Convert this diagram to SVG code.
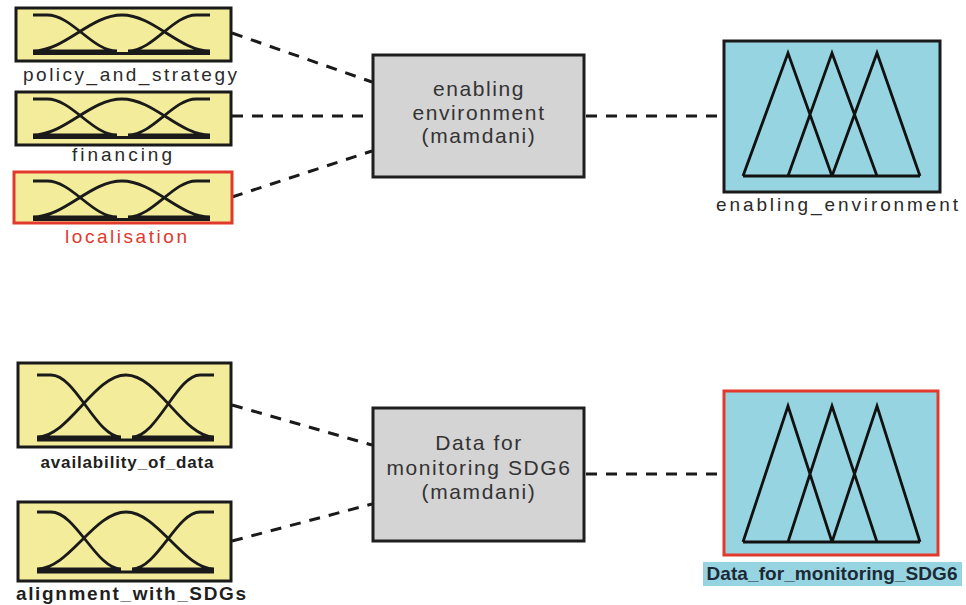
<svg xmlns="http://www.w3.org/2000/svg" width="966" height="605" viewBox="0 0 966 605">
<style>
text{font-family:"Liberation Sans",Arial,sans-serif;}
.in{fill:#f3ec9b;stroke:#1a1a1a;stroke-width:3;}
.inr{fill:#f3ec9b;stroke:#e2392c;stroke-width:3;}
.sys{fill:#d4d4d4;stroke:#1e1e1e;stroke-width:3;}
.out{fill:#97d4e1;stroke:#1a1a1a;stroke-width:3;}
.outr{fill:#97d4e1;stroke:#e2392c;stroke-width:3;}
.mf{fill:none;stroke:#1a1a1a;stroke-width:2.8;}
.tri{fill:none;stroke:#111;stroke-width:2.8;stroke-linejoin:miter;}
.lbl{font-size:19px;fill:#2a2a2a;text-anchor:middle;}
.blbl{font-size:17px;font-weight:bold;fill:#1f1f1f;text-anchor:middle;}
.sysT{font-size:21px;fill:#333;text-anchor:middle;letter-spacing:1.6px;}
.conn{fill:none;stroke:#1a1a1a;stroke-width:3;stroke-dasharray:11 9;}
</style>
<rect x="0" y="0" width="966" height="605" fill="#ffffff"/>

<g id="connectors">
<line class="conn" x1="232" y1="33" x2="372" y2="82"/>
<line class="conn" x1="232" y1="116" x2="372" y2="116"/>
<line class="conn" x1="232" y1="197" x2="372" y2="151"/>
<line class="conn" x1="586" y1="116" x2="722" y2="116"/>
<line class="conn" x1="232" y1="405" x2="372" y2="445"/>
<line class="conn" x1="232" y1="541" x2="372" y2="504"/>
<line class="conn" x1="586" y1="474" x2="722" y2="474"/>
</g>

<g id="policy_and_strategy">
<rect class="in" x="16" y="8" width="215" height="53"/>
<path class="mf" d="M33,15 H47 C72,15 92,51 117,51 M33,51 C65,51 90,15 122,15 C154,15 179,51 210,51 M128,51 C153,51 173,15 196,15 H210 M33,51 H117 M128,51 H210 M33,53.5 H210"/>
<text class="lbl" x="130" y="81" textLength="214" lengthAdjust="spacing">policy_and_strategy</text>
</g>

<g id="financing">
<rect class="in" x="16" y="92" width="215" height="53"/>
<path class="mf" d="M33,99 H47 C72,99 92,135 117,135 M33,135 C65,135 90,99 122,99 C154,99 179,135 210,135 M128,135 C153,135 173,99 196,99 H210 M33,135 H117 M128,135 H210 M33,137.5 H210"/>
<text class="lbl" x="122" y="161" textLength="100" lengthAdjust="spacing">financing</text>
</g>

<g id="localisation">
<rect class="inr" x="14" y="172" width="218" height="51"/>
<path class="mf" d="M33,181 H47 C72,181 92,217 117,217 M33,217 C65,217 90,181 122,181 C154,181 179,217 210,217 M128,217 C153,217 173,181 196,181 H210 M33,217 H117 M128,217 H210 M33,219.5 H210"/>
<text class="lbl" x="126" y="243" textLength="122" lengthAdjust="spacing" style="fill:#e2392c">localisation</text>
</g>

<g id="enabling_environment_sys">
<rect class="sys" x="373" y="55" width="211" height="122"/>
<text class="sysT" x="479" y="96">enabling</text>
<text class="sysT" x="479" y="120">environment</text>
<text class="sysT" x="479" y="143">(mamdani)</text>
</g>

<g id="enabling_environment">
<rect class="out" x="724" y="41" width="216" height="151"/>
<path class="tri" d="M743,176 L788,53 L832,176 M788,176 L832,53 L877,176 M832,176 L877,53 L920,176 M743,176 H920"/>
<text class="lbl" x="837" y="211" textLength="242" lengthAdjust="spacing">enabling_environment</text>
</g>

<g id="availability_of_data">
<rect class="in" x="18" y="363" width="213" height="84"/>
<path class="mf" d="M37,375 H51 C76,375 96,437 121,437 M37,437 C69,437 94,375 126,375 C158,375 183,437 214,437 M132,437 C157,437 177,375 200,375 H214 M37,437 H121 M132,437 H214 M37,440 H214"/>
<text class="blbl" x="127" y="468" textLength="173" lengthAdjust="spacing">availability_of_data</text>
</g>

<g id="alignment_with_SDGs">
<rect class="in" x="18" y="502" width="213" height="79"/>
<path class="mf" d="M37,512 H51 C76,512 96,569 121,569 M37,569 C69,569 94,512 126,512 C158,512 183,569 214,569 M132,569 C157,569 177,512 200,512 H214 M37,569 H121 M132,569 H214 M37,572 H214"/>
<text class="blbl" x="131" y="600" textLength="230" lengthAdjust="spacing" style="font-size:19px">alignment_with_SDGs</text>
</g>

<g id="data_for_monitoring_sys">
<rect class="sys" x="373" y="408" width="211" height="133"/>
<text class="sysT" x="479" y="450">Data for</text>
<text class="sysT" x="479" y="475">monitoring SDG6</text>
<text class="sysT" x="479" y="499">(mamdani)</text>
</g>

<g id="Data_for_monitoring_SDG6">
<rect class="outr" x="724" y="391" width="214" height="164"/>
<path class="tri" d="M743,542 L788,406 L832,542 M788,542 L832,406 L877,542 M832,542 L877,406 L920,542 M743,542 H920"/>
<rect x="703" y="562" width="259" height="24" fill="#97d4e1"/>
<text class="blbl" x="832" y="580" textLength="251" lengthAdjust="spacing" style="font-size:19px;fill:#1c2a36">Data_for_monitoring_SDG6</text>
</g>
</svg>
